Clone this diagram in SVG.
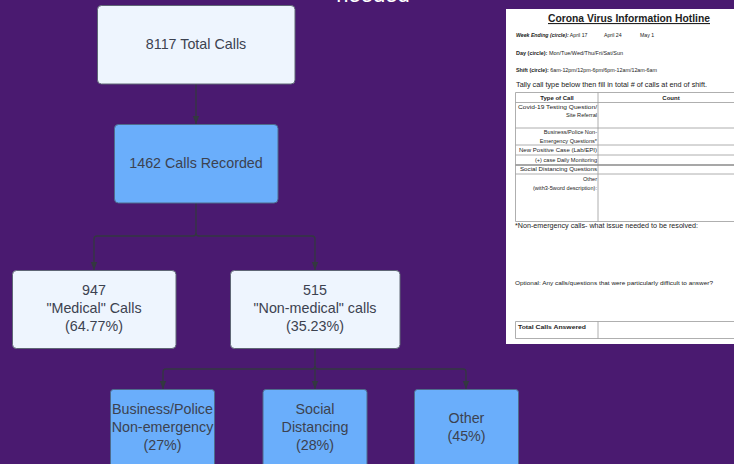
<svg xmlns="http://www.w3.org/2000/svg" width="734" height="464" viewBox="0 0 734 464">
<defs>
<style>
.node-light{fill:#EEF5FE;stroke:#5E6675;stroke-width:1}
.node-blue{fill:#6AAEFB;stroke:#4E6B8C;stroke-width:1}
.lbl{font-family:"Liberation Sans",Arial,sans-serif;font-size:14.3px;fill:#3C4250;text-anchor:middle}
.conn{fill:none;stroke:#333840;stroke-width:1.3}
.f{font-family:"Liberation Sans",Arial,sans-serif;fill:#222}
.fs{font-size:5.2px}
.fr{font-size:5.6px;text-anchor:end}
.grid{stroke:#9A9A9A;stroke-width:0.8;fill:none}
</style>
<marker id="ah" viewBox="0 0 10 10" refX="10" refY="5" markerWidth="8" markerHeight="8" markerUnits="userSpaceOnUse" orient="auto">
<path d="M0,1 L10,5 L0,9 Z" fill="#333840"/>
</marker>
</defs>
<rect x="0" y="0" width="734" height="464" fill="#4A1A70"/>
<text x="373" y="2" font-family="Liberation Sans,Arial,sans-serif" font-size="22" fill="#FFFFFF" text-anchor="middle">needed</text>

<g id="connectors">
<path class="conn" d="M196,84 V124" marker-end="url(#ah)"/>
<path class="conn" d="M196,203 V233 Q196,236 193,236 H97 Q94,236 94,239 V270" marker-end="url(#ah)"/>
<path class="conn" d="M196,233 Q196,236 199,236 H312 Q315,236 315,239 V270" marker-end="url(#ah)"/>
<path class="conn" d="M315,348 V389" marker-end="url(#ah)"/>
<path class="conn" d="M315,366 Q315,369 312,369 H166 Q163,369 163,372 V389" marker-end="url(#ah)"/>
<path class="conn" d="M315,366 Q315,369 318,369 H463 Q466,369 466,372 V389" marker-end="url(#ah)"/>
</g>

<g id="node-total">
<rect class="node-light" x="97.5" y="5.5" width="197.5" height="78.5" rx="4"/>
<text class="lbl" x="196" y="49">8117 Total Calls</text>
</g>
<g id="node-recorded">
<rect class="node-blue" x="114.5" y="124.5" width="163.5" height="78.5" rx="4"/>
<text class="lbl" x="196" y="168">1462 Calls Recorded</text>
</g>
<g id="node-medical">
<rect class="node-light" x="12.5" y="270.5" width="163.5" height="78" rx="4"/>
<text class="lbl" x="94" y="295">947</text>
<text class="lbl" x="94" y="313">"Medical" Calls</text>
<text class="lbl" x="94" y="331">(64.77%)</text>
</g>
<g id="node-nonmedical">
<rect class="node-light" x="230.5" y="270.5" width="169.5" height="78" rx="4"/>
<text class="lbl" x="315" y="295">515</text>
<text class="lbl" x="315" y="313">"Non-medical" calls</text>
<text class="lbl" x="315" y="331">(35.23%)</text>
</g>
<g id="node-business">
<rect class="node-blue" x="110.5" y="389.5" width="104" height="90" rx="3"/>
<text class="lbl" x="162.5" y="414">Business/Police</text>
<text class="lbl" x="162.5" y="432">Non-emergency</text>
<text class="lbl" x="162.5" y="450">(27%)</text>
</g>
<g id="node-social">
<rect class="node-blue" x="263" y="389.5" width="104" height="90" rx="3"/>
<text class="lbl" x="315" y="414">Social</text>
<text class="lbl" x="315" y="432">Distancing</text>
<text class="lbl" x="315" y="450">(28%)</text>
</g>
<g id="node-other">
<rect class="node-blue" x="414.5" y="389.5" width="104" height="90" rx="3"/>
<text class="lbl" x="466.5" y="423">Other</text>
<text class="lbl" x="466.5" y="441">(45%)</text>
</g>

<g id="form">
<rect x="506" y="9" width="230" height="335" fill="#FFFFFF"/>
<text class="f" x="629" y="22" font-size="11" font-weight="bold" text-anchor="middle" text-decoration="underline" textLength="162" lengthAdjust="spacingAndGlyphs">Corona Virus Information Hotline</text>
<text class="f fs" x="516" y="37"><tspan font-weight="bold" font-style="italic">Week Ending (circle):</tspan> April 17</text>
<text class="f fs" x="604" y="37">April 24</text>
<text class="f fs" x="640" y="37">May 1</text>
<text class="f fs" x="516" y="54.5" textLength="107" lengthAdjust="spacingAndGlyphs"><tspan font-weight="bold">Day (circle):</tspan> Mon/Tue/Wed/Thu/Fri/Sat/Sun</text>
<text class="f fs" x="516" y="71.5" textLength="141" lengthAdjust="spacingAndGlyphs"><tspan font-weight="bold">Shift (circle):</tspan> 6am-12pm/12pm-6pm/6pm-12am/12am-6am</text>
<text class="f" x="516" y="87" font-size="7" textLength="191" lengthAdjust="spacingAndGlyphs">Tally call type below then fill in total # of calls at end of shift.</text>
<path class="grid" d="M515.5,92.5 H736 M515.5,102.5 H736 M515.5,128 H736 M515.5,145 H736 M515.5,155 H736 M515.5,174 H736 M515.5,221.5 H736 M515.5,92.5 V221.5 M598,92.5 V221.5"/>
<path d="M515.5,165 H736" stroke="#8A8A8A" stroke-width="1.4"/>
<text class="f" x="557" y="100" font-size="6" font-weight="bold" text-anchor="middle">Type of Call</text>
<text class="f" x="671" y="100" font-size="6" font-weight="bold" text-anchor="middle">Count</text>
<text class="f fr" x="597" y="109" textLength="79" lengthAdjust="spacingAndGlyphs">Covid-19 Testing Question/</text>
<text class="f fr" x="597" y="117">Site Referral</text>
<text class="f fr" x="597" y="134">Business/Police Non-</text>
<text class="f fr" x="597" y="143">Emergency Questions*</text>
<text class="f fr" x="597" y="152" textLength="78" lengthAdjust="spacingAndGlyphs">New Positive Case (Lab/EPI)</text>
<text class="f fr" x="597" y="161.5">(+) case Daily Monitoring</text>
<text class="f fr" x="597" y="171" textLength="77" lengthAdjust="spacingAndGlyphs">Social Distancing Questions</text>
<text class="f fr" x="597" y="180.5">Other</text>
<text class="f fr" x="597" y="190">(with3-5word description):</text>
<text class="f" x="515" y="228" font-size="6.3" textLength="183" lengthAdjust="spacingAndGlyphs">*Non-emergency calls- what issue needed to be resolved:</text>
<text class="f fs" x="515" y="285" textLength="198" lengthAdjust="spacingAndGlyphs">Optional: Any calls/questions that were particularly difficult to answer?</text>
<path class="grid" d="M515.5,321.5 H736 M515.5,338.5 H736 M515.5,321.5 V338.5 M598,321.5 V338.5"/>
<text class="f" x="518" y="328.5" font-size="5.8" font-weight="bold" textLength="68" lengthAdjust="spacingAndGlyphs">Total Calls Answered</text>
</g>
</svg>
